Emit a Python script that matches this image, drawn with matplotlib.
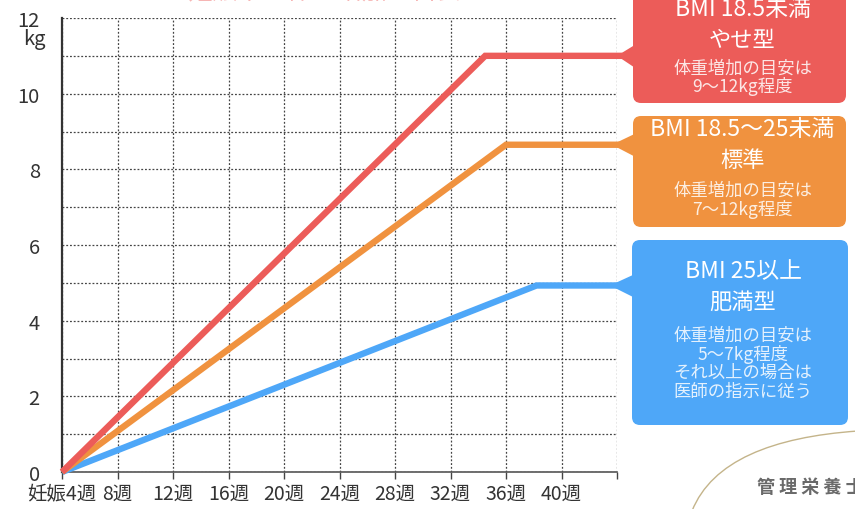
import numpy as np
import matplotlib
matplotlib.use("Agg")
import matplotlib.pyplot as plt
from matplotlib.patches import FancyBboxPatch, Polygon, PathPatch
from matplotlib.path import Path

plt.rcParams['font.family'] = ['Noto Sans CJK JP', 'DejaVu Sans']

# data
weeks_ticks = [4, 8, 12, 16, 20, 24, 28, 32, 36, 40]
week_labels = ["妊娠4週", "8週", "12週", "16週", "20週", "24週", "28週", "32週", "36週", "40週"]
kg_ticks = [0, 2, 4, 6, 8, 10, 12]

thin_weeks = [4, 34.5, 44.4]
thin_kg = [0, 11.0, 11.0]
normal_weeks = [4, 36, 44.2]
normal_kg = [0, 8.65, 8.65]
obese_weeks = [4, 38.2, 44.2]
obese_kg = [0, 4.93, 4.93]

red = "#EC5C59"
orange = "#F0923F"
blue = "#4EA7F8"

W, H = 855, 510
fig = plt.figure(figsize=(W / 100, H / 100), dpi=100)
ax = fig.add_axes([62 / W, (H - 473) / H, (617 - 62) / W, (473 - 19) / H])

ax.set_xlim(4, 44)
ax.set_ylim(0, 12)
ax.set_xticks(np.arange(4, 45, 4))
ax.set_xticklabels(week_labels + [""], fontsize=14, color="#333333")
ax.set_yticks(kg_ticks)
ax.set_yticklabels([str(v) for v in kg_ticks], fontsize=14.5, color="#333333")
ax.set_yticks(np.arange(0, 13, 1), minor=True)
ax.grid(True, which="both", axis="y", linestyle=(0, (1.5, 1.5)), color="#444444", lw=0.9)
ax.grid(True, which="major", axis="x", linestyle=(0, (1.5, 1.5)), color="#444444", lw=0.9)
ax.tick_params(axis="y", which="both", length=0, pad=16)
ax.tick_params(axis="x", length=5, width=1, color="#444444", pad=3)
for s in ["top", "right"]:
    ax.spines[s].set_visible(False)
ax.spines["left"].set_color("#333333")
ax.spines["left"].set_linewidth(1.6)
ax.spines["bottom"].set_color("#555555")
ax.spines["bottom"].set_linewidth(1.2)
ax.text(-0.03, 11.45, "kg", transform=ax.get_yaxis_transform(), ha="right", va="center",
        fontsize=14.5, color="#333333")

for xs, ys, c in [(obese_weeks, obese_kg, blue), (normal_weeks, normal_kg, orange),
                  (thin_weeks, thin_kg, red)]:
    ax.plot(xs, ys, color=c, lw=4.6, clip_on=False, solid_joinstyle="miter",
            solid_capstyle="butt", zorder=3)

# overlay in pixel coordinates for the callouts
ov = fig.add_axes([0, 0, 1, 1], zorder=5)
ov.set_xlim(0, W)
ov.set_ylim(H, 0)
ov.axis("off")
ov.patch.set_alpha(0)

fig.canvas.draw()


def level_px(kg):
    return H - ax.transData.transform((44, kg))[1]


boxes = [
    (red, thin_kg[-1], 617, (633, -20, 213, 124),
     [("BMI 18.5未満", 10, 16.5, 1.0), ("やせ型", 40, 16, 1.0),
      ("体重増加の目安は", 69, 12.5, 0.85), ("9〜12kg程度", 87, 12.5, 0.85)]),
    (orange, normal_kg[-1], 612, (633, 117, 213, 111),
     [("BMI 18.5〜25未満", 130, 16.5, 1.0), ("標準", 161, 16, 1.0),
      ("体重増加の目安は", 191, 12.5, 0.85), ("7〜12kg程度", 210, 12.5, 0.85)]),
    (blue, obese_kg[-1], 610, (632, 241, 216, 185),
     [("BMI 25以上", 272, 16.5, 1.0), ("肥満型", 302, 16, 1.0),
      ("体重増加の目安は", 336, 12.5, 0.85), ("5〜7kg程度", 355, 12.5, 0.85),
      ("それ以上の場合は", 373, 12.5, 0.85), ("医師の指示に従う", 392, 12.5, 0.85)]),
]

for c, kg, tip, (x0, y0, bw, bh), lines in boxes:
    yl = level_px(kg)
    ov.add_patch(FancyBboxPatch((x0, y0), bw, bh, boxstyle="round,pad=0,rounding_size=8",
                                fc=c, ec="none"))
    ov.add_patch(Polygon([(tip, yl), (x0 + 2, yl - 11), (x0 + 2, yl + 12)], closed=True,
                         fc=c, ec="none"))
    cx = x0 + bw / 2 + 3
    for txt, y, fs, a in lines:
        ov.text(cx, y, txt, ha="center", va="center", fontsize=fs, color="white", alpha=a)

# cropped title at the very top (cut off in the original as well)
ov.text(325, -9, "妊娠中の体重増加の目安", ha="center", va="center", fontsize=18,
        color=red, alpha=0.45)

# decorative curve and cropped caption at bottom right
verts = [(692, 512), (712, 462), (772, 438), (858, 432)]
ov.add_patch(PathPatch(Path(verts, [Path.MOVETO, Path.CURVE4, Path.CURVE4, Path.CURVE4]),
                       fc="none", ec="#C4B48A", lw=1.0))
ov.text(757, 488, "管 理 栄 養 士", ha="left", va="center", fontsize=13, color="#6A6A6A",
        fontweight="bold")

fig.savefig("out.png", dpi=100)
